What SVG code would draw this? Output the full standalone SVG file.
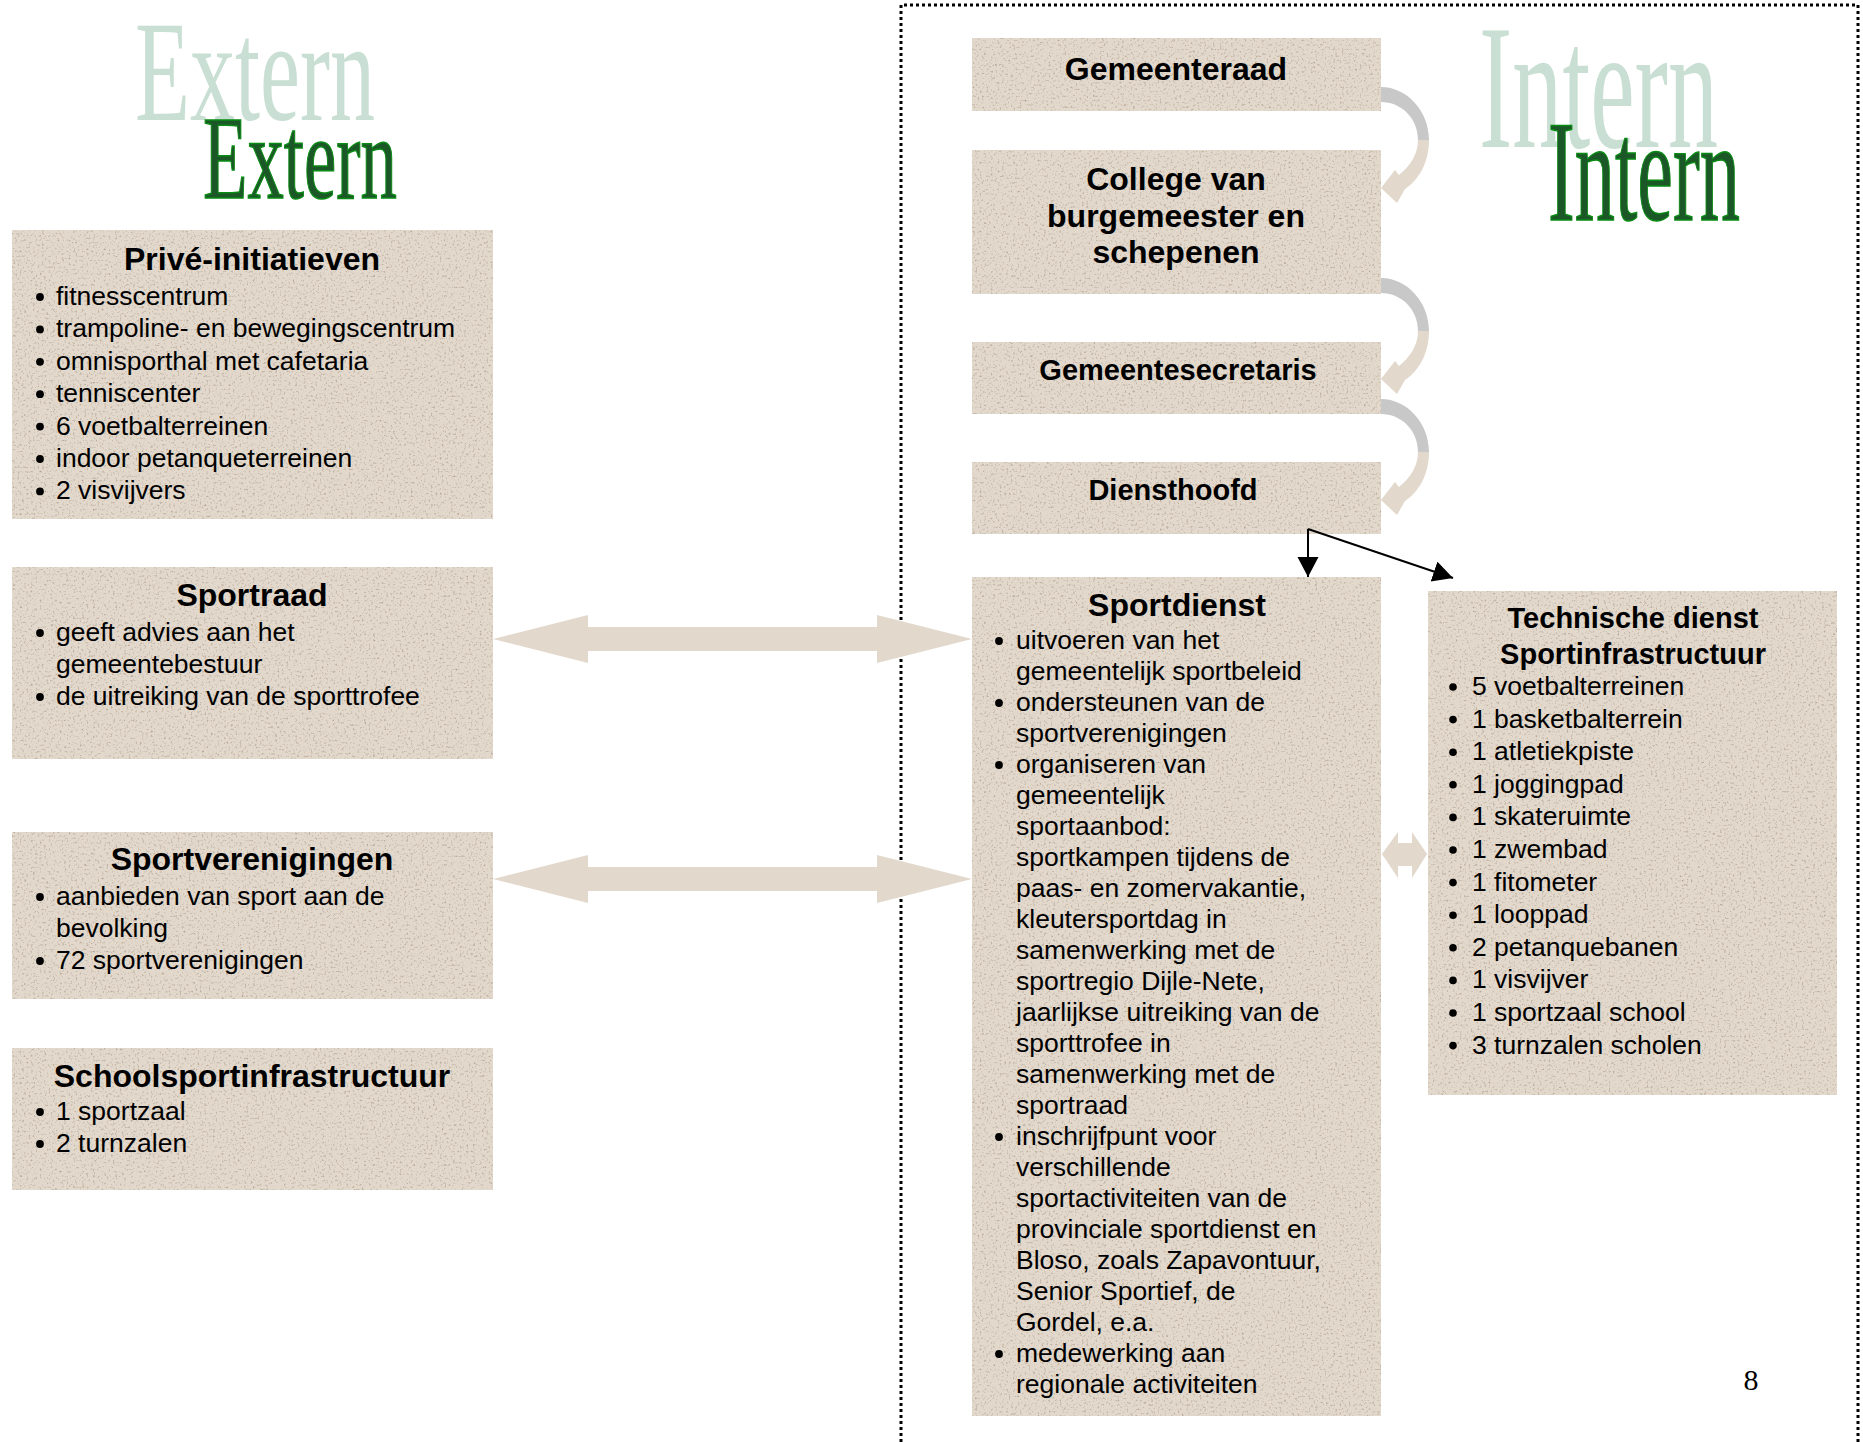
<svg xmlns="http://www.w3.org/2000/svg" xmlns:xlink="http://www.w3.org/1999/xlink" width="1863" height="1442" viewBox="0 0 1863 1442">
<style>
.box{fill:#e2d8cc;filter:url(#tex)}
.t{font-family:"Liberation Sans",Arial,sans-serif;font-weight:bold;font-size:32px;fill:#000;text-anchor:middle}
.t29{font-family:"Liberation Sans",Arial,sans-serif;font-weight:bold;font-size:29px;fill:#000;text-anchor:middle}
.b{font-family:"Liberation Sans",Arial,sans-serif;font-size:26.5px;fill:#000}
.dot{fill:#000}
.wa{font-family:"Liberation Serif","Times New Roman",serif}
.light{fill:#c9dfd3}
.dark{fill:#1b5727;stroke:#0a8c14;stroke-width:1.5}
.conn{stroke:#000;stroke-width:2;fill:none}
.beige{fill:#e2d8cc}
.gray{fill:#c8c8c8}
</style>
<defs>
<filter id="tex" x="0" y="0" width="1" height="1" color-interpolation-filters="sRGB">
<feTurbulence type="fractalNoise" baseFrequency="0.45" numOctaves="2" seed="7" result="n"/>
<feColorMatrix in="n" type="matrix" values="0 0 0 0 0.66  0 0 0 0 0.59  0 0 0 0 0.51  0 0 0 2.4 -1.35" result="sp"/>
<feComposite in="sp" in2="SourceGraphic" operator="in" result="spc"/>
<feMerge><feMergeNode in="SourceGraphic"/><feMergeNode in="spc"/></feMerge>
</filter>
<marker id="ah" markerUnits="userSpaceOnUse" markerWidth="22" markerHeight="22" refX="20" refY="10.5" orient="auto">
<path d="M0,0 L20,10.5 L0,21 Z" fill="#000"/>
</marker>
<g id="curve">
<path class="gray" d="M0,0 C26,0 48,24 48,53 L37,53 C37,31 20,15 0,15 Z"/>
<path class="beige" d="M37,53 L48,53 C48,75 38,93 24,102 L16,116 L0,101 L14,83 L18,88 C28,80 37,68 37,53 Z"/>
</g>
</defs>
<rect width="1863" height="1442" fill="#fff"/>

<g id="frame">
<path d="M901,1442 L901,5 L1858,5 L1858,1442" stroke="#000" stroke-width="3" stroke-dasharray="3,3" fill="none"/>
</g>

<g id="title-extern">
<text class="wa light" x="135" y="120" font-size="143" textLength="240" lengthAdjust="spacingAndGlyphs">Extern</text>
<text class="wa dark" x="203" y="198" font-size="118" textLength="194" lengthAdjust="spacingAndGlyphs">Extern</text>
</g>
<g id="title-intern">
<text class="wa light" x="1479" y="147" font-size="177" textLength="239" lengthAdjust="spacingAndGlyphs">Intern</text>
<text class="wa dark" x="1548" y="220" font-size="143" textLength="192" lengthAdjust="spacingAndGlyphs">Intern</text>
</g>

<g id="prive">
<rect class="box" x="12" y="230" width="481" height="289"/>
<text class="t" x="252" y="270">Privé-initiatieven</text>
<circle class="dot" cx="40" cy="297" r="3.9"/><text class="b" x="56" y="305">fitnesscentrum</text>
<circle class="dot" cx="40" cy="329.4" r="3.9"/><text class="b" x="56" y="337.4">trampoline- en bewegingscentrum</text>
<circle class="dot" cx="40" cy="361.8" r="3.9"/><text class="b" x="56" y="369.8">omnisporthal met cafetaria</text>
<circle class="dot" cx="40" cy="394.2" r="3.9"/><text class="b" x="56" y="402.2">tenniscenter</text>
<circle class="dot" cx="40" cy="426.6" r="3.9"/><text class="b" x="56" y="434.6">6 voetbalterreinen</text>
<circle class="dot" cx="40" cy="459" r="3.9"/><text class="b" x="56" y="467">indoor petanqueterreinen</text>
<circle class="dot" cx="40" cy="491.4" r="3.9"/><text class="b" x="56" y="499.4">2 visvijvers</text>
</g>

<g id="sportraad">
<rect class="box" x="12" y="567" width="481" height="192"/>
<text class="t" x="252" y="606">Sportraad</text>
<circle class="dot" cx="40" cy="633" r="3.9"/><text class="b" x="56" y="641">geeft advies aan het</text>
<text class="b" x="56" y="673">gemeentebestuur</text>
<circle class="dot" cx="40" cy="697" r="3.9"/><text class="b" x="56" y="705">de uitreiking van de sporttrofee</text>
</g>

<g id="sportverenigingen">
<rect class="box" x="12" y="832" width="481" height="167"/>
<text class="t" x="252" y="870">Sportverenigingen</text>
<circle class="dot" cx="40" cy="897" r="3.9"/><text class="b" x="56" y="905">aanbieden van sport aan de</text>
<text class="b" x="56" y="937">bevolking</text>
<circle class="dot" cx="40" cy="961" r="3.9"/><text class="b" x="56" y="969">72 sportverenigingen</text>
</g>

<g id="schoolsport">
<rect class="box" x="12" y="1048" width="481" height="142"/>
<text class="t" x="252" y="1087">Schoolsportinfrastructuur</text>
<circle class="dot" cx="40" cy="1112" r="3.9"/><text class="b" x="56" y="1120">1 sportzaal</text>
<circle class="dot" cx="40" cy="1144" r="3.9"/><text class="b" x="56" y="1152">2 turnzalen</text>
</g>

<g id="gemeenteraad">
<rect class="box" x="972" y="38" width="409" height="73"/>
<text class="t" x="1176" y="79.5">Gemeenteraad</text>
</g>

<g id="college">
<rect class="box" x="972" y="150" width="409" height="144"/>
<text class="t" x="1176" y="190">College van</text>
<text class="t" x="1176" y="226.5">burgemeester en</text>
<text class="t" x="1176" y="263">schepenen</text>
</g>

<g id="gemeentesecretaris">
<rect class="box" x="972" y="342" width="409" height="72"/>
<text class="t29" x="1178" y="380">Gemeentesecretaris</text>
</g>

<g id="diensthoofd">
<rect class="box" x="972" y="462" width="409" height="72"/>
<text class="t29" x="1173" y="500">Diensthoofd</text>
</g>

<g id="sportdienst">
<rect class="box" x="972" y="577" width="409" height="839"/>
<text class="t" x="1177" y="616">Sportdienst</text>
<circle class="dot" cx="999" cy="641" r="3.9"/>
<circle class="dot" cx="999" cy="703" r="3.9"/>
<circle class="dot" cx="999" cy="765" r="3.9"/>
<circle class="dot" cx="999" cy="1137" r="3.9"/>
<circle class="dot" cx="999" cy="1354" r="3.9"/>
<text class="b" x="1016" y="649">uitvoeren van het</text>
<text class="b" x="1016" y="680">gemeentelijk sportbeleid</text>
<text class="b" x="1016" y="711">ondersteunen van de</text>
<text class="b" x="1016" y="742">sportverenigingen</text>
<text class="b" x="1016" y="773">organiseren van</text>
<text class="b" x="1016" y="804">gemeentelijk</text>
<text class="b" x="1016" y="835">sportaanbod:</text>
<text class="b" x="1016" y="866">sportkampen tijdens de</text>
<text class="b" x="1016" y="897">paas- en zomervakantie,</text>
<text class="b" x="1016" y="928">kleutersportdag in</text>
<text class="b" x="1016" y="959">samenwerking met de</text>
<text class="b" x="1016" y="990">sportregio Dijle-Nete,</text>
<text class="b" x="1016" y="1021">jaarlijkse uitreiking van de</text>
<text class="b" x="1016" y="1052">sporttrofee in</text>
<text class="b" x="1016" y="1083">samenwerking met de</text>
<text class="b" x="1016" y="1114">sportraad</text>
<text class="b" x="1016" y="1145">inschrijfpunt voor</text>
<text class="b" x="1016" y="1176">verschillende</text>
<text class="b" x="1016" y="1207">sportactiviteiten van de</text>
<text class="b" x="1016" y="1238">provinciale sportdienst en</text>
<text class="b" x="1016" y="1269">Bloso, zoals Zapavontuur,</text>
<text class="b" x="1016" y="1300">Senior Sportief, de</text>
<text class="b" x="1016" y="1331">Gordel, e.a.</text>
<text class="b" x="1016" y="1362">medewerking aan</text>
<text class="b" x="1016" y="1393">regionale activiteiten</text>
</g>

<g id="technische-dienst">
<rect class="box" x="1428" y="591" width="409" height="504"/>
<text class="t29" x="1633" y="628">Technische dienst</text>
<text class="t29" x="1633" y="664">Sportinfrastructuur</text>
<circle class="dot" cx="1453" cy="687" r="3.8"/><text class="b" x="1472" y="695">5 voetbalterreinen</text>
<circle class="dot" cx="1453" cy="719.6" r="3.8"/><text class="b" x="1472" y="727.6">1 basketbalterrein</text>
<circle class="dot" cx="1453" cy="752.2" r="3.8"/><text class="b" x="1472" y="760.2">1 atletiekpiste</text>
<circle class="dot" cx="1453" cy="784.8" r="3.8"/><text class="b" x="1472" y="792.8">1 joggingpad</text>
<circle class="dot" cx="1453" cy="817.4" r="3.8"/><text class="b" x="1472" y="825.4">1 skateruimte</text>
<circle class="dot" cx="1453" cy="850" r="3.8"/><text class="b" x="1472" y="858">1 zwembad</text>
<circle class="dot" cx="1453" cy="882.6" r="3.8"/><text class="b" x="1472" y="890.6">1 fitometer</text>
<circle class="dot" cx="1453" cy="915.2" r="3.8"/><text class="b" x="1472" y="923.2">1 looppad</text>
<circle class="dot" cx="1453" cy="947.8" r="3.8"/><text class="b" x="1472" y="955.8">2 petanquebanen</text>
<circle class="dot" cx="1453" cy="980.4" r="3.8"/><text class="b" x="1472" y="988.4">1 visvijver</text>
<circle class="dot" cx="1453" cy="1013" r="3.8"/><text class="b" x="1472" y="1021">1 sportzaal school</text>
<circle class="dot" cx="1453" cy="1045.6" r="3.8"/><text class="b" x="1472" y="1053.6">3 turnzalen scholen</text>
</g>

<g id="page-number">
<text class="wa" x="1751" y="1390" font-size="30" text-anchor="middle" fill="#000">8</text>
</g>

<g id="connectors">
<path class="beige" d="M493,639 L588,615 L588,627 L877,627 L877,615 L972,639 L877,663 L877,651 L588,651 L588,663 Z"/>
<path class="beige" d="M493,879 L588,855 L588,867 L877,867 L877,855 L972,879 L877,903 L877,891 L588,891 L588,903 Z"/>
<path class="beige" d="M1382,854 L1398,832 L1398,843 L1412,843 L1412,832 L1427,854 L1412,878 L1412,866 L1398,866 L1398,878 Z"/>
<use xlink:href="#curve" href="#curve" transform="translate(1381,87)"/>
<use xlink:href="#curve" href="#curve" transform="translate(1381,278)"/>
<use xlink:href="#curve" href="#curve" transform="translate(1381,399)"/>
<path class="conn" d="M1308,529 L1308,577" marker-end="url(#ah)"/>
<path class="conn" d="M1308,529 L1453,578" marker-end="url(#ah)"/>
</g>
</svg>
